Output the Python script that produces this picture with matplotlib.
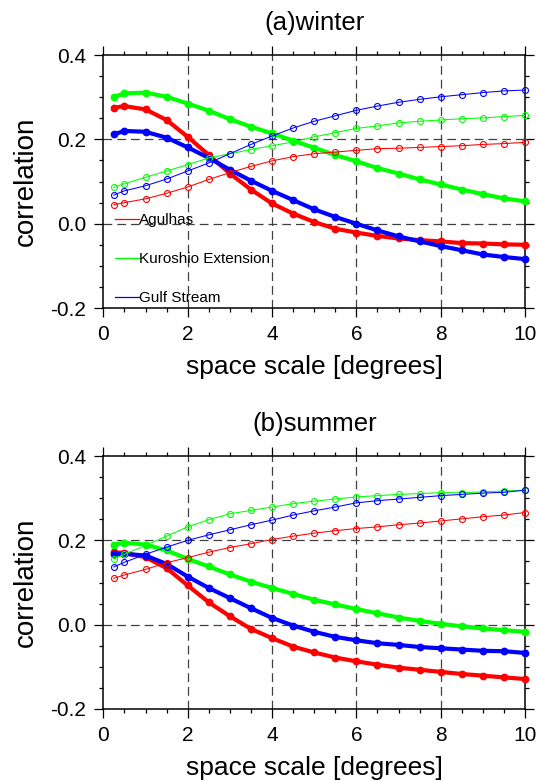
import matplotlib
matplotlib.use("Agg")
import matplotlib.pyplot as plt
from matplotlib.ticker import MultipleLocator
from matplotlib.lines import Line2D

plt.rcParams['font.family'] = ['Liberation Sans', 'DejaVu Sans']

# --- data: space scale (degrees) ---
scale = [0.25, 0.5, 1.0, 1.5, 2.0, 2.5, 3.0, 3.5, 4.0, 4.5, 5.0,
         5.5, 6.0, 6.5, 7.0, 7.5, 8.0, 8.5, 9.0, 9.5, 10.0]

# winter, thick curves
win_agulhas = [0.275, 0.279, 0.271, 0.246, 0.206, 0.163, 0.119, 0.081, 0.048, 0.024, 0.004,
               -0.012, -0.021, -0.029, -0.035, -0.039, -0.042, -0.046, -0.047, -0.049, -0.050]
win_kuroshio = [0.301, 0.309, 0.311, 0.301, 0.285, 0.268, 0.248, 0.230, 0.214, 0.197, 0.180,
                0.163, 0.148, 0.132, 0.119, 0.105, 0.093, 0.081, 0.070, 0.060, 0.053]
win_gulf = [0.212, 0.220, 0.218, 0.204, 0.181, 0.156, 0.128, 0.102, 0.078, 0.056, 0.034,
            0.016, 0.000, -0.016, -0.030, -0.042, -0.053, -0.063, -0.073, -0.079, -0.084]
# winter, thin curves
win_agulhas_2 = [0.045, 0.050, 0.059, 0.072, 0.087, 0.105, 0.121, 0.136, 0.149, 0.159, 0.166,
                 0.170, 0.174, 0.178, 0.179, 0.181, 0.183, 0.185, 0.188, 0.190, 0.193]
win_kuroshio_2 = [0.086, 0.095, 0.110, 0.125, 0.140, 0.156, 0.166, 0.176, 0.185, 0.194, 0.206,
                  0.216, 0.226, 0.232, 0.239, 0.243, 0.246, 0.249, 0.251, 0.254, 0.257]
win_gulf_2 = [0.068, 0.078, 0.090, 0.106, 0.125, 0.144, 0.166, 0.188, 0.208, 0.227, 0.243,
              0.256, 0.269, 0.279, 0.288, 0.295, 0.301, 0.306, 0.311, 0.315, 0.317]

# summer, thick curves
sum_agulhas = [0.172, 0.170, 0.160, 0.134, 0.093, 0.053, 0.020, -0.010, -0.032, -0.052, -0.066,
               -0.078, -0.087, -0.095, -0.102, -0.107, -0.112, -0.117, -0.121, -0.125, -0.129]
sum_kuroshio = [0.190, 0.194, 0.190, 0.176, 0.156, 0.138, 0.119, 0.102, 0.087, 0.073, 0.059,
                0.048, 0.037, 0.027, 0.017, 0.009, 0.002, -0.004, -0.009, -0.013, -0.017]
sum_gulf = [0.167, 0.168, 0.164, 0.144, 0.114, 0.087, 0.063, 0.039, 0.016, -0.002, -0.017,
            -0.029, -0.037, -0.044, -0.048, -0.053, -0.056, -0.059, -0.062, -0.063, -0.067]
# summer, thin curves
sum_agulhas_2 = [0.110, 0.118, 0.131, 0.147, 0.159, 0.172, 0.183, 0.192, 0.202, 0.210, 0.217,
                 0.223, 0.228, 0.232, 0.237, 0.241, 0.246, 0.251, 0.256, 0.260, 0.266]
sum_kuroshio_2 = [0.156, 0.167, 0.188, 0.210, 0.232, 0.249, 0.263, 0.271, 0.279, 0.287, 0.293,
                  0.298, 0.303, 0.306, 0.309, 0.311, 0.313, 0.313, 0.315, 0.317, 0.319]
sum_gulf_2 = [0.137, 0.148, 0.167, 0.184, 0.200, 0.213, 0.225, 0.237, 0.248, 0.260, 0.270,
              0.279, 0.289, 0.294, 0.298, 0.302, 0.306, 0.309, 0.312, 0.314, 0.319]

names = ["Agulhas", "Kuroshio Extension", "Gulf Stream"]
colors = ["#ff0000", "#00ff00", "#0000ff"]


def draw_panel(ax, thick, thin, title):
    # grid
    for gx in [2, 4, 6, 8]:
        ax.axvline(gx, color='0.25', lw=0.9, dashes=(7, 4), zorder=1)
    for gy in [0.0, 0.2]:
        ax.axhline(gy, color='0.25', lw=0.9, dashes=(7, 4), zorder=1)

    for ys, c in zip(thick, colors):
        ax.plot(scale, ys, color=c, lw=3.0, marker='o', ms=4.6, mfc=c, mec=c,
                clip_on=False, zorder=3)
    for ys, c in zip(thin, colors):
        ax.plot(scale, ys, color=c, lw=0.75, marker='o', ms=4.3, mfc='none', mec=c,
                mew=0.8, clip_on=False, zorder=4)

    ax.set_xlim(0, 10)
    ax.set_ylim(-0.2, 0.4)
    ax.set_xticks([0, 2, 4, 6, 8, 10])
    ax.set_yticks([-0.2, 0.0, 0.2, 0.4])
    ax.set_yticklabels(["-0.2", "0.0", "0.2", "0.4"])
    ax.xaxis.set_minor_locator(MultipleLocator(0.5))
    ax.yaxis.set_minor_locator(MultipleLocator(0.05))
    ax.tick_params(which='both', direction='out', top=True, right=True,
                   labelsize=15, width=0.9)
    ax.tick_params(which='major', length=6.5, pad=6)
    ax.tick_params(which='minor', length=3)
    for sp in ax.spines.values():
        sp.set_linewidth(1.1)
    ax.set_xlabel("space scale [degrees]", fontsize=19, labelpad=8)
    ax.set_ylabel("correlation", fontsize=20, labelpad=8)
    ax.set_title(title, fontsize=18.5, pad=18)


fig = plt.figure(figsize=(5.36, 7.81), dpi=100)
ax1 = fig.add_axes([0.1928, 0.6056, 0.7868, 0.3239])
ax2 = fig.add_axes([0.1928, 0.0922, 0.7868, 0.3239])

draw_panel(ax1, [win_agulhas, win_kuroshio, win_gulf],
           [win_agulhas_2, win_kuroshio_2, win_gulf_2], "(a)winter")
draw_panel(ax2, [sum_agulhas, sum_kuroshio, sum_gulf],
           [sum_agulhas_2, sum_kuroshio_2, sum_gulf_2], "(b)summer")

handles = [Line2D([], [], color=c, lw=0.9) for c in colors]
ax1.legend(handles, names, loc='lower left', bbox_to_anchor=(0.02, 0.0),
           frameon=False, fontsize=11, handlelength=1.6, handletextpad=0.0,
           labelspacing=1.62, borderpad=0.2, borderaxespad=0.0)

fig.savefig("out.png", dpi=100)
